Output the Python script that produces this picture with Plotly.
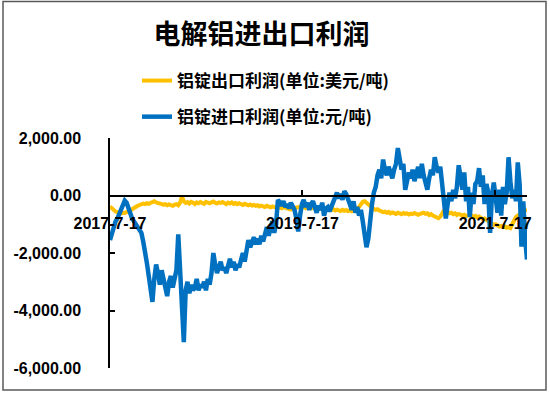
import pandas as pd
import plotly.graph_objects as go

# weekly observation dates (category axis)
dates = pd.date_range("2017-07-17", periods=227, freq="7D")

# 铝锭进口利润 (元/吨)
import_profit = [
    -1550, -1300, -1100, -900, -800, -650, -500, -300, -180, -250,
    -450, -650, -800, -900, -1000, -1100, -1150, -1300, -1600, -1900,
    -2350, -2800, -3300, -3700, -2900, -2400, -2700, -3100, -2600, -2900,
    -3300, -3500, -3000, -2800, -3200, -2900, -2600, -1350, -2600, -4300,
    -5100, -3300, -3000, -3400, -3100, -3300, -3200, -2900, -3300, -3100,
    -3200, -3000, -3300, -2900, -3100, -2700, -2000, -2400, -2700, -2500,
    -2300, -2600, -2500, -2700, -2400, -2200, -2500, -2300, -2600, -2400,
    -2500, -2200, -2000, -2300, -1900, -1550, -1800, -1600, -1450, -1700,
    -1500, -1700, -1400, -1600, -1300, -1100, -1400, -1200, -900, -1300,
    -1000, -150, -250, -350, -200, -400, -300, -450, -250, -350,
    -500, -800, -1250, -700, -300, -150, -400, -250, -500, -300,
    -200, -400, -600, -350, -500, -250, -700, -450, -400, -550,
    -400, -200, -50, 100, -100, 50, -150, 150, 50, -200,
    -300, -500, -200, -600, -400, -700, -500, -900, -1300, -1800,
    -1500, -800, -300, 100, 300, 700, 900, 600, 1250, 900,
    700, 1000, 800, 600, 900, 1100, 1650, 1200, 900, 1100,
    200, 500, 800, 600, 900, 500, 700, 1000, 600, 1100,
    700, 400, 200, 600, 900, 700, 1330, 1000, 800, 1000,
    500, -100, -800, -300, 100, -200, 200, -100, 300, 1050,
    600, 200, 800, -200, 300, -750, 100, -300, 400, 500,
    950, 300, 700, -300, 400, 100, -1300, 0, 450, -200,
    -600, 200, -700, 300, -300, 100, 1330, 500, -100, 200,
    -200, 1150, 400, -1780, -200, -1500, -2230,
]

# 铝锭出口利润 (美元/吨)
export_profit = [
    -380, -450, -520, -560, -580, -600, -620, -600, -610, -580,
    -560, -520, -480, -430, -400, -360, -330, -300, -280, -300,
    -270, -290, -260, -230, -200, -240, -260, -280, -300, -320,
    -300, -340, -310, -330, -360, -320, -300, -340, -250, -40,
    -200, -260, -230, -280, -220, -250, -300, -240, -270, -230,
    -260, -290, -220, -250, -270, -240, -210, -250, -280, -240,
    -260, -230, -270, -300, -250, -280, -240, -290, -260, -300,
    -270, -300, -330, -290, -320, -340, -310, -350, -330, -360,
    -340, -380, -350, -370, -400, -360, -390, -410, -380, -400,
    -420, -390, -410, -440, -400, -430, -450, -470, -490, -460,
    -440, -420, -400, -420, -380, -410, -440, -400, -430, -450,
    -420, -460, -440, -480, -450, -470, -500, -460, -490, -470,
    -500, -480, -520, -490, -510, -540, -500, -530, -510, -540,
    -520, -550, -530, -500, -460, -400, -300, -220, -200, -260,
    -330, -380, -420, -470, -500, -480, -520, -550, -580, -560,
    -600, -570, -620, -590, -610, -640, -600, -630, -650, -610,
    -640, -620, -660, -630, -650, -610, -640, -670, -640, -620,
    -600, -640, -620, -680, -650, -700, -730, -760, -790, -740,
    -620, -520, -500, -560, -620, -600, -650, -620, -680, -640,
    -660, -700, -670, -720, -690, -650, -700, -740, -710, -760,
    -730, -780, -820, -800, -860, -900, -940, -980, -1020, -1000,
    -1050, -1080, -1060, -1100, -1080, -1120, -1100, -1130, -1000, -850,
    -750, -700, -650, -600, -560, -520, -500,
]

x_tick_vals = ["2017-07-17", "2019-07-17", "2021-07-17"]
x_tick_text = ["2017-7-17", "2019-7-17", "2021-7-17"]
y_tick_vals = [-6000, -4000, -2000, 0, 2000]
y_tick_text = [f"{v:,.2f}" for v in y_tick_vals]

title_text = "电解铝进出口利润"
name_export = "铝锭出口利润(单位:美元/吨)"
name_import = "铝锭进口利润(单位:元/吨)"

CJK = "Noto Sans CJK SC"
NUM = "Liberation Sans"

fig = go.Figure()
fig.add_trace(go.Scatter(
    x=dates, y=export_profit, mode="lines", name=name_export,
    line=dict(color="#FFC000", width=4), legendgroup="a",
))
fig.add_trace(go.Scatter(
    x=dates, y=import_profit, mode="lines", name=name_import,
    line=dict(color="#0070C0", width=4.5), legendgroup="b",
))

fig.update_layout(
    width=550, height=393,
    margin=dict(l=110, r=23, t=138, b=25, autoexpand=False),
    paper_bgcolor="white", plot_bgcolor="white",
    title=dict(text=title_text, x=0.4755, xref="container", xanchor="center",
               y=1 - 34.5 / 393, yref="container", yanchor="middle",
               font=dict(family=CJK, size=27, color="black", weight="bold")),
    legend=dict(orientation="v", x=137 / 550, xref="container", xanchor="left",
                y=1 - 63 / 393, yref="container", yanchor="top",
                traceorder="grouped", tracegroupgap=11,
                font=dict(family=CJK, size=17, color="black", weight="bold"),
                bgcolor="rgba(0,0,0,0)"),
    showlegend=True,
    xaxis=dict(
        type="date", range=["2017-07-17", "2021-11-15"],
        anchor="free", position=0.75, side="bottom",
        showline=True, linecolor="black", linewidth=1.5,
        showgrid=False, zeroline=False,
        tickvals=x_tick_vals, ticktext=x_tick_text, tickangle=0,
        ticks="inside", ticklen=5, tickcolor="black", tickwidth=1.5,
        ticklabelstandoff=14,
        tickfont=dict(family=NUM, size=16, color="black", weight="bold"),
    ),
    yaxis=dict(
        range=[-6000, 2000], tickvals=y_tick_vals, ticktext=y_tick_text,
        showline=True, linecolor="black", linewidth=1.5,
        showgrid=False, zeroline=False,
        ticks="inside", ticklen=5, tickcolor="black", tickwidth=1.5,
        ticklabelstandoff=24,
        tickfont=dict(family=NUM, size=16, color="black", weight="bold"),
    ),
    shapes=[dict(type="rect", xref="paper", yref="paper",
                 x0=(3 - 110) / 417, x1=(546 - 110) / 417,
                 y0=(368 - 390) / 230, y1=(368 - 1.5) / 230,
                 line=dict(color="#595959", width=1.5), layer="below")],
)

fig.write_html("out.html", config={"displayModeBar": False},
               post_script="document.body.style.margin='0';document.body.style.overflow='hidden';")
